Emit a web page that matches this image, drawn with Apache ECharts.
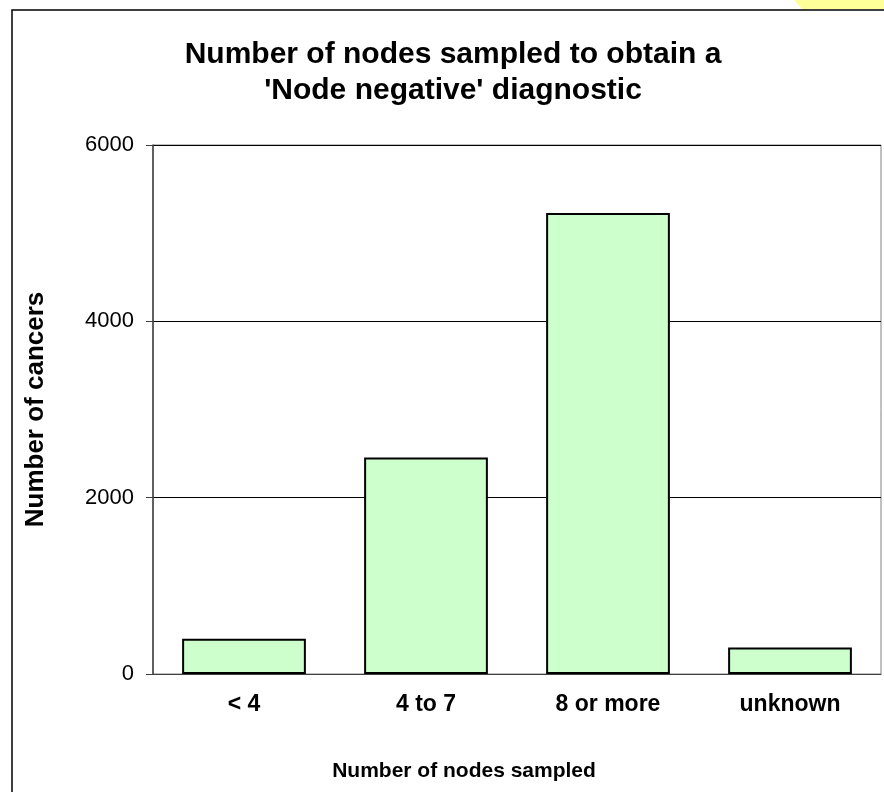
<!DOCTYPE html>
<html>
<head>
<meta charset="utf-8">
<title>Nodes sampled</title>
<script src="https://cdn.jsdelivr.net/npm/echarts@6/dist/echarts.min.js"></script>
<style>
  html, body { margin: 0; padding: 0; background: #fff; }
  #chart { width: 884px; height: 792px; }
</style>
</head>
<body>
<div id="chart"></div>
<script>
// data
const categories = ['< 4', '4 to 7', '8 or more', 'unknown'];
const cancerCounts = [400, 2455, 5230, 300];
const yTicks = { min: 0, max: 6000, interval: 2000 };

const FONT = '"Liberation Sans", Arial, sans-serif';

const chart = echarts.init(document.getElementById('chart'));

const option = {
  backgroundColor: '#fff',
  animation: false,
  title: {
    text: "Number of nodes sampled to obtain a\n'Node negative' diagnostic",
    left: 453,
    top: 37,
    textAlign: 'center',
    padding: 0,
    textStyle: {
      fontFamily: FONT,
      fontSize: 30,
      fontWeight: 'bold',
      color: '#000',
      lineHeight: 36
    }
  },
  graphic: [
    // outer chart frame (runs off the right and bottom edges)
    {
      type: 'rect',
      shape: { x: 12, y: 10, width: 900, height: 800 },
      style: { fill: 'none', stroke: '#000', lineWidth: 1.5 },
      z: 0
    },
    // yellow tab peeking in at the top-right corner
    {
      type: 'polygon',
      shape: { points: [[794, 0], [884, 0], [884, 9], [802, 9]] },
      style: { fill: '#FFFF99' },
      z: 0
    }
  ],
  grid: {
    left: 153,
    right: 3,
    top: 145,
    bottom: 118,
    show: true,
    borderColor: '#808080',
    borderWidth: 1,
    backgroundColor: '#fff'
  },
  xAxis: {
    type: 'category',
    data: categories,
    name: 'Number of nodes sampled',
    nameLocation: 'middle',
    nameGap: 87,
    nameTextStyle: {
      fontFamily: FONT,
      fontSize: 21,
      fontWeight: 'bold',
      color: '#000',
      // the reference title sits left of the plot centre
      padding: [0, 106, 0, 0]
    },
    axisLine: { lineStyle: { color: '#404040', width: 1 } },
    axisTick: { show: false },
    axisLabel: {
      margin: 19,
      fontFamily: FONT,
      fontSize: 23,
      fontWeight: 'bold',
      color: '#000'
    }
  },
  yAxis: {
    type: 'value',
    min: yTicks.min,
    max: yTicks.max,
    interval: yTicks.interval,
    name: 'Number of cancers',
    nameLocation: 'middle',
    nameRotate: 90,
    nameGap: 104,
    nameTextStyle: {
      fontFamily: FONT,
      fontSize: 26,
      fontWeight: 'bold',
      color: '#000'
    },
    axisLine: { show: true, lineStyle: { color: '#404040', width: 1.5 } },
    axisTick: { show: true, length: 7, lineStyle: { color: '#404040' } },
    axisLabel: {
      margin: 19,
      fontFamily: FONT,
      fontSize: 22,
      color: '#000',
      formatter: (v) => String(v)
    },
    splitLine: { show: true, lineStyle: { color: '#000', width: 1 } }
  },
  series: [
    {
      name: 'Number of cancers',
      type: 'bar',
      data: cancerCounts,
      barCategoryGap: '32%',
      itemStyle: {
        color: '#CCFFCC',
        borderColor: '#000',
        borderWidth: 2
      }
    }
  ]
};

chart.setOption(option);
</script>
</body>
</html>
